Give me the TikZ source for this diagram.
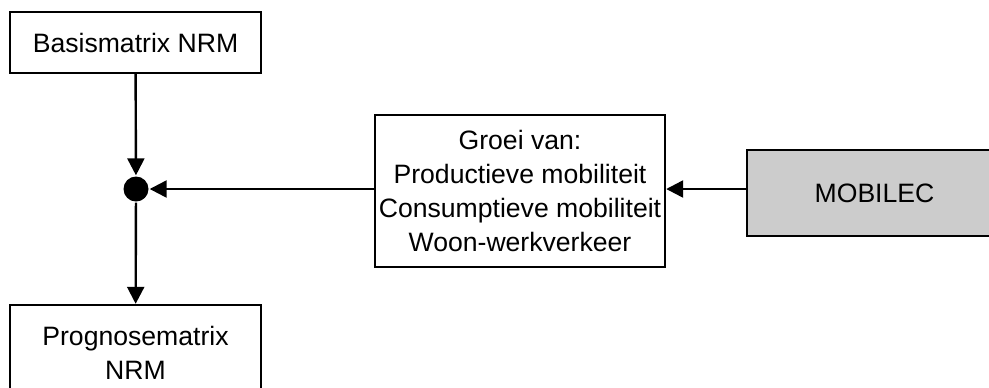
\documentclass[tikz,border=0pt]{standalone}
\usepackage{fontspec}
\setmainfont{Liberation Sans}
\usetikzlibrary{arrows.meta}
\begin{document}
\begin{tikzpicture}[x=0.5pt,y=-0.5pt,line width=1.2pt,
        box/.style={draw,minimum width=125.5pt,align=center,
            font=\fontsize{13.3}{17}\selectfont,inner sep=0pt},
        arr/.style={-{Triangle[length=8.5pt,width=8.5pt]}}]
        \useasboundingbox (0,0) rectangle (989,387);
        \node[box,minimum height=30.5pt] (basis) at (135.5,42.5) {Basismatrix NRM};
        \node[circle,fill,inner sep=0pt,minimum size=12.5pt] (knoop) at (136,189) {};
        \node[box,minimum width=145pt,minimum height=76pt] (groei) at (520,191)
            {Groei van:\\Productieve mobiliteit\\Consumptieve mobiliteit\\Woon-werkverkeer};
        \node[box,fill=black!20,minimum width=127.5pt,minimum height=43pt] (mobilec) at (874.5,193) {MOBILEC};
        \node[box,minimum height=48pt] (progn) at (135.5,353) {Prognosematrix\\NRM};
        \draw[arr] (basis) -- (knoop);
        \draw[arr] (groei.west |- knoop) -- (knoop);
        \draw[arr] (mobilec.west |- knoop) -- (groei.east |- knoop);
        \draw[arr] (knoop) -- (progn);
    \end{tikzpicture}
\end{document}
